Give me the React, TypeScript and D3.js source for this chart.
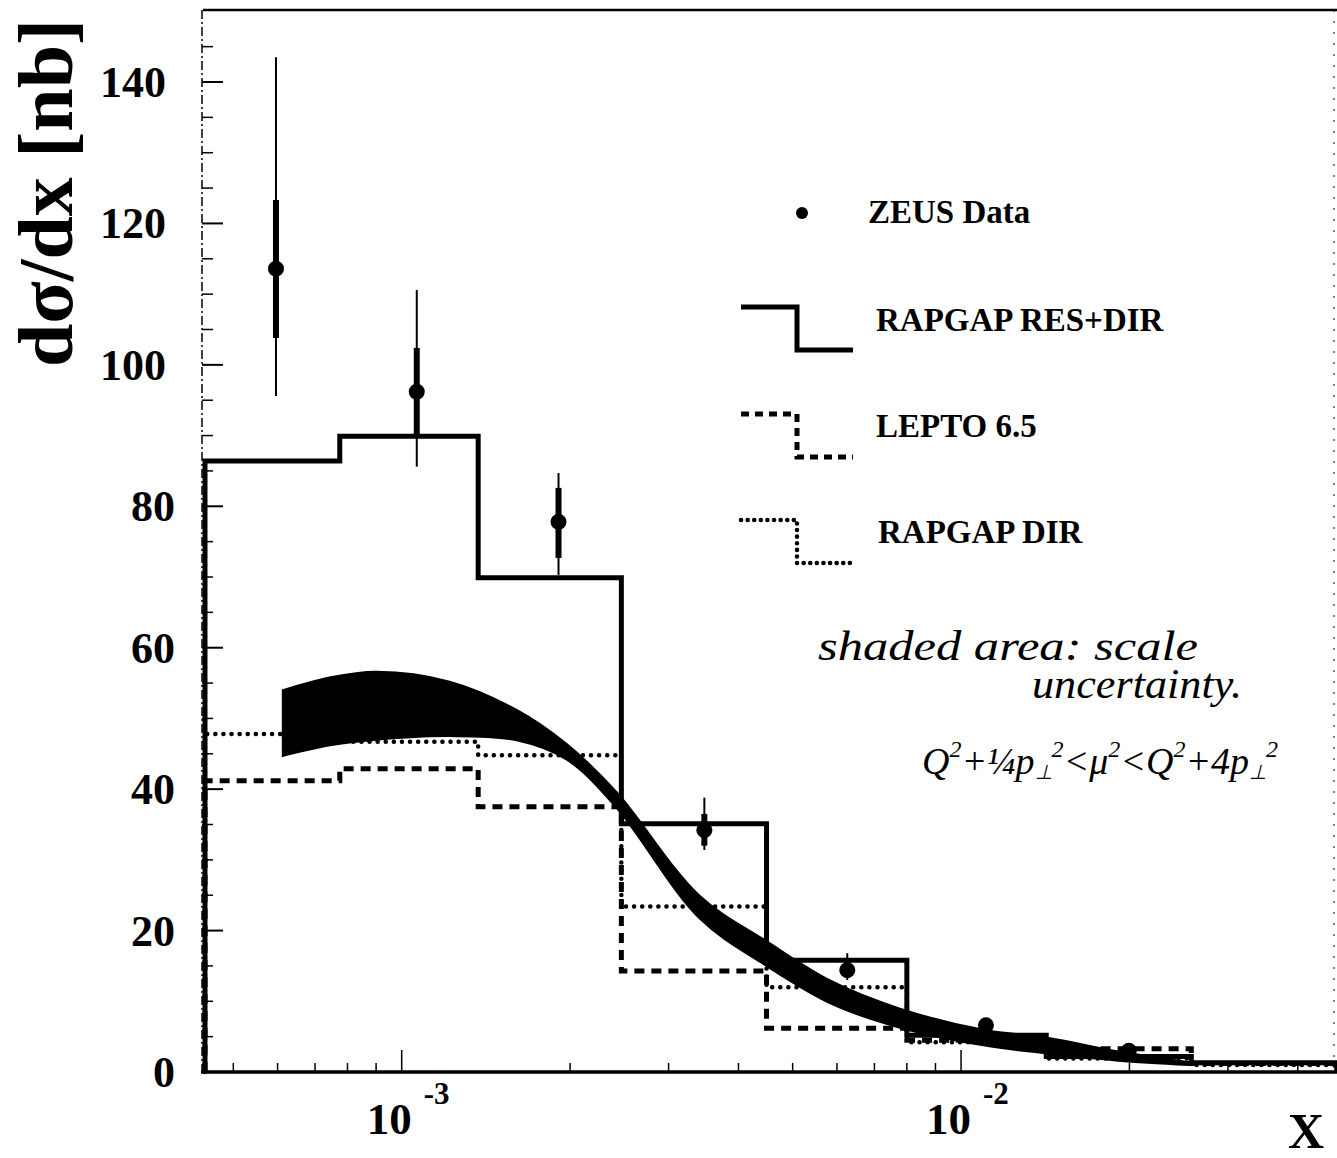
import { useRef, useEffect } from "react";
import * as d3 from "d3";

// bin edges in x, shared by the three Monte Carlo histograms
const binEdges = [4.45e-4, 7.75e-4, 1.37e-3, 2.47e-3, 4.49e-3, 8.0e-3, 1.42e-2, 2.58e-2, 4.7e-2];
const rapgapResDir = [86.4, 89.9, 69.9, 35.1, 15.8, 5.2, 2.2, 1.3];
const lepto65 = [41.2, 42.9, 37.5, 14.3, 6.2, 4.5, 3.3, 1.2];
const rapgapDir = [47.8, 46.7, 44.8, 23.4, 12.0, 4.2, 1.9, 1.0];

// ZEUS data points with inner (stat) and outer (total) errors
const dataX = [5.96e-4, 1.064e-3, 1.907e-3, 3.476e-3, 6.26e-3, 1.108e-2, 1.995e-2];
const dataY = [113.6, 96.2, 77.8, 34.2, 14.4, 6.6, 3.0];
const statLo = [103.8, 90.1, 72.7, 32.0, 13.4, 6.6, 3.0];
const statHi = [123.3, 102.4, 82.6, 36.5, 15.6, 6.6, 3.0];
const totLo = [95.6, 85.6, 70.3, 31.4, 13.0, 6.6, 3.0];
const totHi = [143.5, 110.6, 84.7, 38.8, 16.8, 6.6, 3.0];

// scale uncertainty band
const bandX = [6.13e-4, 7.44e-4, 9.02e-4, 1.218e-3, 1.605e-3, 1.97e-3, 2.42e-3, 3.4e-3, 4.49e-3, 5.88e-3, 7.75e-3, 1.09e-2, 1.435e-2, 1.91e-2, 2.55e-2];
const bandHi = [54.0, 55.8, 56.6, 55.2, 51.2, 46.4, 39.6, 25.0, 18.5, 12.8, 9.0, 6.0, 4.8, 2.9, 1.4];
const bandLo = [44.7, 46.2, 47.0, 47.5, 46.9, 44.2, 37.4, 21.8, 15.0, 9.6, 6.3, 3.8, 2.6, 1.6, 1.0];

const yTicks = [0, 20, 40, 60, 80, 100, 120, 140];
const xMajor = [1e-3, 1e-2];
const xMajorExp = ["-3", "-2"];
const xMinor = [5e-4, 6e-4, 7e-4, 8e-4, 9e-4, 2e-3, 3e-3, 4e-3, 5e-3, 6e-3, 7e-3, 8e-3, 9e-3, 2e-2, 3e-2, 4e-2];

const legendLabels = ["ZEUS Data", "RAPGAP RES+DIR", "LEPTO 6.5", "RAPGAP DIR"];

const SERIF = "'Liberation Serif', 'Times New Roman', serif";

export default function App() {
  const svgRef = useRef<SVGSVGElement>(null);

  useEffect(() => {
    if (!svgRef.current) return;
    const width = 1337;
    const height = 1158;
    const left = 205;
    const right = 1337;
    const top = 10;
    const bottom = 1072;

    const svg = d3.select(svgRef.current);
    svg.selectAll("*").remove();
    svg.attr("width", width).attr("height", height).attr("viewBox", `0 0 ${width} ${height}`);

    svg.append("rect").attr("width", width).attr("height", height).attr("fill", "#fff");

    const x = d3.scaleLog().domain([binEdges[0], binEdges[binEdges.length - 1]]).range([left, right]);
    const y = d3.scaleLinear().domain([0, 140]).range([bottom, 82]);

    // frame
    svg.append("line").attr("x1", left - 2).attr("x2", right).attr("y1", top).attr("y2", top)
      .attr("stroke", "#000").attr("stroke-width", 2.5);
    svg.append("line").attr("x1", left - 3).attr("x2", left - 3).attr("y1", top).attr("y2", bottom)
      .attr("stroke", "#000").attr("stroke-width", 1.5).attr("stroke-dasharray", "9 3 2 3");
    svg.append("line").attr("x1", right - 3).attr("x2", right - 3).attr("y1", top).attr("y2", bottom)
      .attr("stroke", "#000").attr("stroke-width", 1).attr("stroke-dasharray", "2 9");
    svg.append("line").attr("x1", left - 4).attr("x2", right).attr("y1", bottom).attr("y2", bottom)
      .attr("stroke", "#000").attr("stroke-width", 3.5);

    // y ticks
    const yMinor = d3.range(0, 150, 5).filter((v) => v % 20 !== 0);
    svg.append("g").selectAll("line").data(yMinor).join("line")
      .attr("x1", left - 3).attr("x2", left + 8).attr("y1", (d) => y(d)).attr("y2", (d) => y(d))
      .attr("stroke", "#000").attr("stroke-width", 1.5);
    svg.append("g").selectAll("line").data(yTicks).join("line")
      .attr("x1", left - 3).attr("x2", left + 18).attr("y1", (d) => y(d)).attr("y2", (d) => y(d))
      .attr("stroke", "#000").attr("stroke-width", 2);
    svg.append("g").selectAll("text").data(yTicks).join("text")
      .attr("x", (d) => (d >= 100 ? 166 : 175)).attr("y", (d) => y(d) + 15)
      .attr("text-anchor", "end").attr("font-family", SERIF).attr("font-weight", "bold")
      .attr("font-size", 44).text((d) => String(d));

    // x ticks (log)
    svg.append("g").selectAll("line").data(xMinor).join("line")
      .attr("x1", (d) => x(d)).attr("x2", (d) => x(d)).attr("y1", bottom).attr("y2", bottom - 9)
      .attr("stroke", "#000").attr("stroke-width", 1.5);
    svg.append("g").selectAll("line").data(xMajor).join("line")
      .attr("x1", (d) => x(d)).attr("x2", (d) => x(d)).attr("y1", bottom).attr("y2", bottom - 22)
      .attr("stroke", "#000").attr("stroke-width", 1.5);
    const xl = svg.append("g").selectAll("text").data(xMajor).join("text")
      .attr("x", (d) => x(d) - 35).attr("y", 1134)
      .attr("font-family", SERIF).attr("font-weight", "bold").attr("font-size", 45);
    xl.append("tspan").text("10");
    xl.append("tspan").attr("dx", 12).attr("dy", -30).attr("font-size", 31).text((_, i) => xMajorExp[i]);

    // axis titles
    svg.append("text").attr("x", 1288).attr("y", 1148)
      .attr("font-family", SERIF).attr("font-weight", "bold").attr("font-size", 50).text("X");
    svg.append("text").attr("transform", "translate(72,193) rotate(-90)").attr("text-anchor", "middle")
      .attr("font-family", SERIF).attr("font-weight", "bold").attr("font-size", 78).text("dσ/dx [nb]");

    // scale uncertainty band
    const band = d3.area<number>()
      .x((_, i) => x(bandX[i]))
      .y0((_, i) => y(bandLo[i]))
      .y1((_, i) => y(bandHi[i]))
      .curve(d3.curveCatmullRom.alpha(0.5));
    svg.append("path").datum(bandX).attr("d", band).attr("fill", "#000")
      .attr("stroke", "#000").attr("stroke-width", 2);

    // histograms
    const stepPts = (vals: number[]) => {
      const pts: [number, number][] = [[binEdges[0], 0]];
      vals.forEach((v, i) => {
        pts.push([binEdges[i], v]);
        pts.push([binEdges[i + 1], v]);
      });
      pts.push([binEdges[vals.length], 0]);
      return pts;
    };
    const step = d3.line<[number, number]>().x((d) => x(d[0])).y((d) => y(d[1]));

    svg.append("path").datum(stepPts(rapgapDir)).attr("d", step).attr("fill", "none")
      .attr("stroke", "#000").attr("stroke-width", 4.5).attr("stroke-dasharray", "0.1 8")
      .attr("stroke-linecap", "round");
    svg.append("path").datum(stepPts(lepto65)).attr("d", step).attr("fill", "none")
      .attr("stroke", "#000").attr("stroke-width", 5).attr("stroke-dasharray", "10 7");
    svg.append("path").datum(stepPts(rapgapResDir)).attr("d", step).attr("fill", "none")
      .attr("stroke", "#000").attr("stroke-width", 5);

    // ZEUS data
    const pts = svg.append("g");
    pts.selectAll(".tot").data(dataX).join("line")
      .attr("x1", (d) => x(d)).attr("x2", (d) => x(d))
      .attr("y1", (_, i) => y(totLo[i])).attr("y2", (_, i) => y(totHi[i]))
      .attr("stroke", "#000").attr("stroke-width", 2);
    pts.selectAll(".stat").data(dataX).join("line")
      .attr("x1", (d) => x(d)).attr("x2", (d) => x(d))
      .attr("y1", (_, i) => y(statLo[i])).attr("y2", (_, i) => y(statHi[i]))
      .attr("stroke", "#000").attr("stroke-width", 6);
    pts.selectAll("circle").data(dataX).join("circle")
      .attr("cx", (d) => x(d)).attr("cy", (_, i) => y(dataY[i])).attr("r", 8).attr("fill", "#000");

    // legend
    const lg = svg.append("g").attr("font-family", SERIF).attr("font-weight", "bold").attr("font-size", 33);
    lg.append("circle").attr("cx", 802).attr("cy", 213).attr("r", 6).attr("fill", "#000");
    const sym = (yy: number, dash: string | null, sw: number, cap: string) => {
      const p = lg.append("path").attr("d", `M741,${yy}H797V${yy + 43}H853`).attr("fill", "none")
        .attr("stroke", "#000").attr("stroke-width", sw).attr("stroke-linecap", cap);
      if (dash) p.attr("stroke-dasharray", dash);
    };
    sym(307, null, 5, "butt");
    sym(414, "8 6", 5, "butt");
    sym(520, "0.1 6.5", 4.5, "round");
    const legendPos = [[868, 223], [876, 331], [876, 437], [878, 543]];
    legendLabels.forEach((t, i) => {
      lg.append("text").attr("x", legendPos[i][0]).attr("y", legendPos[i][1]).text(t);
    });

    // handwritten note
    const note = svg.append("g").attr("font-family", SERIF).attr("font-style", "italic").attr("font-size", 42);
    note.append("text").attr("x", 818).attr("y", 660).attr("textLength", 380)
      .attr("lengthAdjust", "spacingAndGlyphs").text("shaded area: scale");
    note.append("text").attr("x", 1032).attr("y", 698).attr("textLength", 210)
      .attr("lengthAdjust", "spacingAndGlyphs").text("uncertainty.");
    const f = note.append("text").attr("x", 922).attr("y", 774).attr("font-size", 38);
    const sup = (t: string) => f.append("tspan").attr("dy", -17).attr("font-size", 24).text(t);
    const base = (t: string) => f.append("tspan").attr("dy", 17).text(t);
    f.append("tspan").text("Q");
    sup("2");
    base("+¼p");
    f.append("tspan").attr("dy", 5).attr("font-size", 20).text("⊥");
    f.append("tspan").attr("dy", -22).attr("font-size", 24).text("2");
    base("<μ");
    sup("2");
    base("<Q");
    sup("2");
    base("+4p");
    f.append("tspan").attr("dy", 5).attr("font-size", 20).text("⊥");
    f.append("tspan").attr("dy", -22).attr("font-size", 24).text("2");
  }, []);

  return (
    <div style={{ position: "absolute", left: 0, top: 0 }}>
      <svg ref={svgRef} style={{ display: "block" }} />
    </div>
  );
}
